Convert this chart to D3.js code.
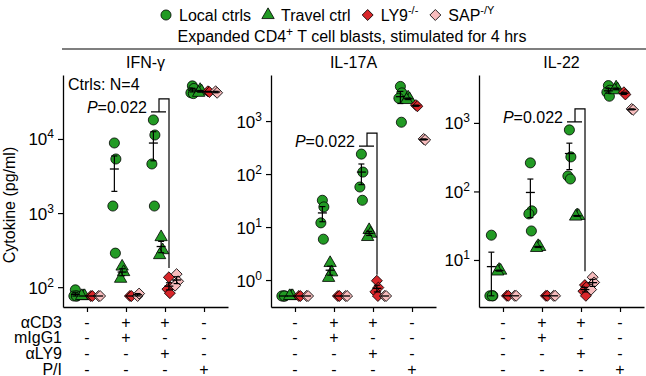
<!DOCTYPE html>
<html>
<head>
<meta charset="utf-8">
<script src="https://cdn.jsdelivr.net/npm/d3@7"></script>
<style>
  body { margin: 0; background: #fff; }
  text { font-family: "Liberation Sans", Arial, sans-serif; fill: #000; }
</style>
</head>
<body>
<div id="chart"></div>
<script>
// Values (pg/ml), one list per condition: aCD3-, aCD3+mIgG1, aCD3+aLY9, P/I
const panelTitles = ['IFN-γ', 'IL-17A', 'IL-22']
const conditions = ['none', 'cd3igg', 'cd3ly9', 'pi']

const ifnLocal = [[92, 76, 76, 76], [8830, 5370, 1245, 288], [18070, 11320, 4600, 1245], [52000, 48000, 42000, 41000]]
const ifnTravel = [[76, 76, 76], [190, 160, 130], [474, 316, 271], [46000, 44000, 42000]]
const ifnLy9 = [[76, 76], [76, 76], [136, 100, 94, 83], [44000, 43000]]
const ifnSap = [[76, 76], [76, 82], [150, 120, 105], [44000, 42000]]

const il17Local = [[0.5, 0.5, 0.5, 0.5], [32, 24, 12, 5.9], [238, 109, 57, 32], [4500, 3400, 2700, 950]]
const il17Travel = [[0.5, 0.5, 0.5], [2.1, 1.4, 1.1], [8.8, 7.5, 6.5], [2800, 2600, 2500]]
const il17Ly9 = [[0.5, 0.5], [0.5, 0.5], [0.97, 0.72, 0.6, 0.5], [2000, 1900]]
const il17Sap = [[0.5, 0.5], [0.5, 0.5], [0.5, 0.5], [460, 440]]

const il22Local = [[23, 3, 3, 3], [261, 52, 47, 26.5], [790, 319, 168, 152], [3500, 3000, 2800, 2450]]
const il22Travel = [[7.2, 7, 6.8], [16, 15.5, 15], [45, 44, 43], [3300, 3100, 3000]]
const il22Ly9 = [[3, 3], [3, 3], [4.3, 4, 3.5, 3], [2800, 2600]]
const il22Sap = [[3, 3], [3, 3], [5.6, 4.7, 3.7], [1600, 1550]]

const yDomains = [[54, 73000], [0.31, 7400], [2.06, 5000]]
const yTicks = [[1e2, 1e3, 1e4], [1e0, 1e1, 1e2, 1e3], [1e1, 1e2, 1e3]]
const pValues = ['0.022', '0.022', '0.022']

const rowLabels = ['αCD3', 'mIgG1', 'αLY9', 'P/I']
const rowCD3 = ['-', '+', '+', '-']
const rowIgG1 = ['-', '+', '-', '-']
const rowLY9 = ['-', '-', '+', '-']
const rowPI = ['-', '-', '-', '+']

const groupLabels = ['Local ctrls', 'Travel ctrl', 'LY9', 'SAP']
const groupSups = ['', '', '-/-', '-/Y']

// Build panel table from the arrays above
const panelData = [
  [ifnLocal, ifnTravel, ifnLy9, ifnSap],
  [il17Local, il17Travel, il17Ly9, il17Sap],
  [il22Local, il22Travel, il22Ly9, il22Sap]
]
const rows = [rowCD3, rowIgG1, rowLY9, rowPI]

// Styling
const green = '#229a24'
const groupColors = [green, green, '#d8262a', '#f7bcbd']
const groupSymbols = [
  d3.symbol().type(d3.symbolCircle).size(80),
  d3.symbol().type(d3.symbolTriangle).size(66),
  d3.symbol().type(d3.symbolSquare).size(60),
  d3.symbol().type(d3.symbolSquare).size(60)
]
const groupRotate = [0, 0, 45, 45]
const jitter = [0, 1.5, -1.5, 1]
const fontSize = '16px'

const width = 646
const height = 376
const panelLeft = 63
const panelWidth = 165
const panelGap = 43
const plotTop = 75
const plotBottom = 307

const svg = d3.select('#chart').append('svg')
  .attr('width', width)
  .attr('height', height)

// Legend
const legend = svg.append('g').attr('class', 'legend')
  .attr('transform', 'translate(166,15)')
let lx = 0
groupLabels.forEach((label, i) => {
  const g = legend.append('g')
  g.append('path')
    .attr('d', groupSymbols[i]())
    .attr('transform', `translate(${lx},0) rotate(${groupRotate[i]})`)
    .attr('fill', groupColors[i])
    .attr('stroke', '#000')
    .attr('stroke-width', 0.8)
  const t = g.append('text')
    .attr('x', lx + 13)
    .attr('y', 5.5)
    .style('font-size', fontSize)
    .text(label)
  if (groupSups[i]) {
    t.append('tspan').attr('dy', -7).style('font-size', '11px').text(groupSups[i])
  }
  lx += 13 + t.node().getComputedTextLength() + 17
})

// Title
const title = svg.append('text')
  .attr('x', 352)
  .attr('y', 42)
  .attr('text-anchor', 'middle')
  .style('font-size', fontSize)
title.append('tspan').text('Expanded CD4')
title.append('tspan').attr('dy', -6).style('font-size', '12px').text('+')
title.append('tspan').attr('dy', 6).text(' T cell blasts, stimulated for 4 hrs')

svg.append('line')
  .attr('x1', 62).attr('x2', width)
  .attr('y1', 49).attr('y2', 49)
  .attr('stroke', '#000').attr('stroke-width', 1.2)

// Y axis title
svg.append('text')
  .attr('transform', `translate(15,${(plotTop + plotBottom) / 2 + 14}) rotate(-90)`)
  .attr('text-anchor', 'middle')
  .style('font-size', fontSize)
  .text('Cytokine (pg/ml)')

// Row labels of the condition table
const rowY = d3.scalePoint().domain(rowLabels).range([322, 369])
rowLabels.forEach(label => {
  svg.append('text')
    .attr('x', 62)
    .attr('y', rowY(label) + 5.5)
    .attr('text-anchor', 'end')
    .style('font-size', fontSize)
    .text(label)
})

panelData.forEach((groupsData, p) => {
  const x0 = panelLeft + p * (panelWidth + panelGap)
  const g = svg.append('g').attr('transform', `translate(${x0},0)`)

  const xScale = d3.scalePoint()
    .domain(conditions)
    .range([0, panelWidth])
    .padding(0.615)
  const groupScale = d3.scaleBand()
    .domain(d3.range(4))
    .range([-15.5, 15.5])
  const yScale = d3.scaleLog()
    .domain(yDomains[p])
    .range([plotBottom, plotTop])

  // Axes
  const yAxis = g.append('g')
    .call(d3.axisLeft(yScale).tickValues(yTicks[p]).tickSize(5).tickSizeOuter(0).tickFormat(''))
  yAxis.select('.domain').attr('stroke-width', 1.3)
  yAxis.selectAll('.tick line').attr('stroke-width', 1.2)
  yAxis.selectAll('.tick').each(function (d) {
    const t = d3.select(this).append('text')
      .attr('x', -9)
      .attr('y', 6)
      .attr('text-anchor', 'end')
      .style('font-size', '17px')
    t.append('tspan').text('10')
    t.append('tspan').attr('dy', -7).style('font-size', '12px').text(Math.round(Math.log10(d)))
  })

  const xAxis = g.append('g')
    .attr('transform', `translate(0,${plotBottom})`)
    .call(d3.axisBottom(xScale).tickSize(5).tickSizeOuter(0).tickFormat(''))
  xAxis.select('.domain').attr('stroke-width', 1.3)
  xAxis.selectAll('.tick line').attr('stroke-width', 1.2)

  // Panel title
  g.append('text')
    .attr('x', panelWidth / 2)
    .attr('y', 68)
    .attr('text-anchor', 'middle')
    .style('font-size', fontSize)
    .text(panelTitles[p])

  // Points
  groupsData.forEach((byCond, gi) => {
    byCond.forEach((vals, ci) => {
      const cx = xScale(conditions[ci]) + groupScale(gi) + groupScale.bandwidth() / 2
      vals.forEach((v, i) => {
        g.append('path')
          .attr('d', groupSymbols[gi]())
          .attr('transform', `translate(${cx + jitter[i % jitter.length]},${yScale(v)}) rotate(${groupRotate[gi]})`)
          .attr('fill', groupColors[gi])
          .attr('stroke', '#000')
          .attr('stroke-width', 0.8)
      })
    })
  })

  // Mean +/- SEM
  groupsData.forEach((byCond, gi) => {
    byCond.forEach((vals, ci) => {
      const cx = xScale(conditions[ci]) + groupScale(gi) + groupScale.bandwidth() / 2
      const mean = d3.mean(vals)
      const sem = vals.length > 1 ? d3.deviation(vals) / Math.sqrt(vals.length) : 0
      const lo = Math.max(mean - sem, yDomains[p][0])
      const hi = mean + sem
      g.append('line')
        .attr('x1', cx - 4.5).attr('x2', cx + 4.5)
        .attr('y1', yScale(mean)).attr('y2', yScale(mean))
        .attr('stroke', '#000').attr('stroke-width', 1.3)
      if (sem > 0) {
        g.append('line')
          .attr('x1', cx).attr('x2', cx)
          .attr('y1', yScale(lo)).attr('y2', yScale(hi))
          .attr('stroke', '#000').attr('stroke-width', 1.2)
        ;[lo, hi].forEach(v => {
          g.append('line')
            .attr('x1', cx - 3).attr('x2', cx + 3)
            .attr('y1', yScale(v)).attr('y2', yScale(v))
            .attr('stroke', '#000').attr('stroke-width', 1.2)
        })
      }
    })
  })

  // Significance bracket, controls vs LY9 in aCD3 + aLY9
  const c = xScale(conditions[2])
  const ctrlTop = yScale(d3.max(groupsData[0][2].concat(groupsData[1][2])))
  const patTop = yScale(d3.max(groupsData[2][2].concat(groupsData[3][2])))
  const yShort = ctrlTop - 8
  const yTop = yShort - 13
  g.append('path')
    .attr('d', `M${c - 14},${yShort}H${c + 1}M${c - 6},${yShort}V${yTop}H${c + 4}V${patTop - 6}`)
    .attr('fill', 'none')
    .attr('stroke', '#000')
    .attr('stroke-width', 1.2)
  const pt = g.append('text')
    .attr('x', c - 18)
    .attr('y', yShort + 1)
    .attr('text-anchor', 'end')
    .style('font-size', fontSize)
  pt.append('tspan').style('font-style', 'italic').text('P')
  pt.append('tspan').text('=' + pValues[p])

  if (p === 0) {
    g.append('text')
      .attr('x', 5)
      .attr('y', 90)
      .style('font-size', fontSize)
      .text('Ctrls: N=4')
  }

  // Condition table signs
  rows.forEach((signs, r) => {
    signs.forEach((s, ci) => {
      g.append('text')
        .attr('x', xScale(conditions[ci]))
        .attr('y', rowY(rowLabels[r]) + 5.5)
        .attr('text-anchor', 'middle')
        .style('font-size', fontSize)
        .text(s)
    })
  })
})
</script>
</body>
</html>
